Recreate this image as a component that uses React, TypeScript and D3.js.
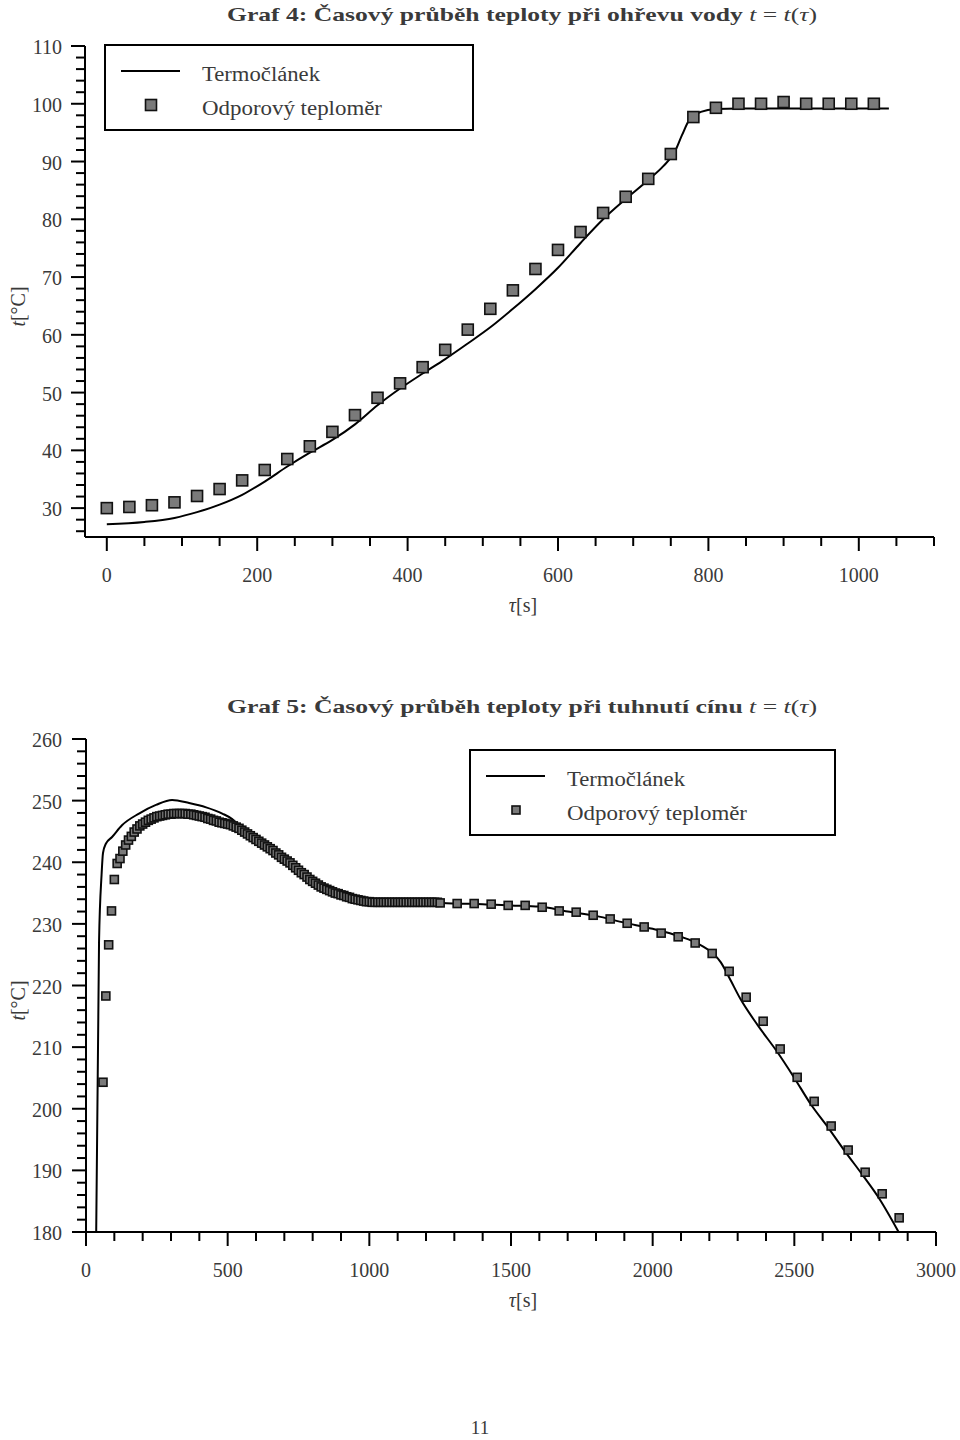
import * as d3 from 'd3'

const FONT = '"Liberation Serif", "Times New Roman", serif'
const TEXT = '#3a3a3a'

// Graf 4 – ohřev vody
const heatMarkTimes = [0, 30, 60, 90, 120, 150, 180, 210, 240, 270, 300, 330, 360, 390, 420, 450, 480, 510, 540, 570, 600, 630, 660, 690, 720, 750, 780, 810, 840, 870, 900, 930, 960, 990, 1020]
const heatMarkTemps = [30.0, 30.2, 30.5, 31.0, 32.1, 33.3, 34.8, 36.6, 38.5, 40.7, 43.2, 46.1, 49.1, 51.6, 54.4, 57.4, 60.9, 64.5, 67.7, 71.4, 74.7, 77.8, 81.1, 83.9, 87.0, 91.3, 97.7, 99.3, 100.0, 100.0, 100.3, 100.0, 100.0, 100.0, 100.0]
const heatLineTimes = [0, 50, 90, 120, 150, 180, 210, 240, 270, 300, 330, 360, 390, 420, 450, 480, 510, 540, 570, 600, 630, 660, 690, 720, 740, 755, 765, 775, 790, 810, 840, 1040]
const heatLineTemps = [27.2, 27.6, 28.3, 29.3, 30.6, 32.3, 34.6, 37.2, 39.6, 41.8, 44.5, 47.8, 50.7, 53.3, 55.8, 58.5, 61.3, 64.5, 67.9, 71.6, 75.9, 80.0, 83.5, 86.8, 89.2, 91.6, 94.6, 97.3, 98.6, 99.1, 99.2, 99.2]
const heatXTicks = [0, 200, 400, 600, 800, 1000]
const heatYTicks = [30, 40, 50, 60, 70, 80, 90, 100, 110]

// Graf 5 – tuhnutí cínu
const coolMarkTimes = [
  60, 70, 80, 90, 100, 110, 120, 130, 140, 150, 160, 170, 180, 190, 200, 210, 220, 230, 240, 250,
  260, 270, 280, 290, 300, 310, 320, 330, 340, 350, 360, 370, 380, 390, 400, 410, 420, 430, 440, 450,
  460, 470, 480, 490, 500, 510, 520, 530, 540, 550, 560, 570, 580, 590, 600, 610, 620, 630, 640, 650,
  660, 670, 680, 690, 700, 710, 720, 730, 740, 750, 760, 770, 780, 790, 800, 810, 820, 830, 840, 850,
  860, 870, 880, 890, 900, 910, 920, 930, 940, 950, 960, 970, 980, 990, 1000, 1010, 1020, 1030, 1040, 1050,
  1060, 1070, 1080, 1090, 1100, 1110, 1120, 1130, 1140, 1150, 1160, 1170, 1180, 1190, 1200, 1210, 1220, 1230, 1240,
  1250, 1310, 1370, 1430, 1490, 1550, 1610, 1670, 1730, 1790, 1850, 1910, 1970, 2030, 2090, 2150, 2210, 2270,
  2330, 2390, 2450, 2510, 2570, 2630, 2690, 2750, 2810, 2870,
]
const coolMarkTemps = [
  204.3, 218.3, 226.6, 232.1, 237.2, 239.8, 240.6, 241.8, 242.8, 243.6, 244.2, 244.9, 245.4, 245.9, 246.2, 246.5, 246.8, 247.0, 247.2, 247.4,
  247.5, 247.6, 247.7, 247.8, 247.8, 247.9, 247.9, 247.9, 247.9, 247.9, 247.8, 247.8, 247.7, 247.6, 247.5, 247.4, 247.3, 247.1, 247.0, 246.8,
  246.7, 246.5, 246.4, 246.3, 246.2, 246.1, 245.9, 245.7, 245.5, 245.2, 244.9, 244.6, 244.3, 244.0, 243.7, 243.4, 243.1, 242.8, 242.5, 242.2,
  241.9, 241.5, 241.2, 240.8, 240.5, 240.2, 239.9, 239.5, 239.1, 238.7, 238.3, 238.0, 237.6, 237.2, 236.9, 236.6, 236.3, 236.0, 235.8, 235.6,
  235.4, 235.2, 235.0, 234.9, 234.7, 234.6, 234.4, 234.3, 234.1, 234.0, 233.9, 233.8, 233.7, 233.6, 233.6, 233.5, 233.5, 233.5, 233.5, 233.5,
  233.5, 233.5, 233.5, 233.5, 233.5, 233.5, 233.5, 233.5, 233.5, 233.5, 233.5, 233.5, 233.5, 233.5, 233.5, 233.5, 233.5, 233.5, 233.5,
  233.4, 233.3, 233.3, 233.2, 233.0, 233.0, 232.7, 232.1, 231.9, 231.4, 230.8, 230.1, 229.5, 228.5, 227.9, 226.9, 225.2, 222.3,
  218.1, 214.2, 209.7, 205.1, 201.2, 197.2, 193.3, 189.7, 186.2, 182.3,
]
const coolLineTimes = [36, 46, 55, 60, 70, 92, 127, 187, 247, 304, 364, 424, 481, 516, 550, 600, 650, 700, 750, 800, 850, 900, 950, 1000, 1100, 1200, 1300, 1400, 1500, 1600, 1700, 1800, 1900, 2000, 2100, 2160, 2210, 2240, 2270, 2310, 2370, 2440, 2500, 2560, 2620, 2680, 2740, 2800, 2868]
const coolLineTemps = [180, 227, 238, 241.5, 243, 244.1, 246.0, 247.9, 249.3, 250.1, 249.6, 248.9, 247.9, 247.0, 245.4, 243.8, 242.1, 240.5, 238.7, 236.9, 235.6, 234.7, 234.0, 233.6, 233.5, 233.5, 233.3, 233.2, 233.0, 232.8, 232.0, 231.3, 230.2, 229.2, 227.9, 226.8, 225.3, 223.8, 221.3, 217.8, 213.6, 209.2, 205.0, 200.6, 196.9, 193.0, 189.3, 185.4, 180]
const coolXTicks = [0, 500, 1000, 1500, 2000, 2500, 3000]
const coolYTicks = [180, 190, 200, 210, 220, 230, 240, 250, 260]

const legendLabels = ['Termočlánek', 'Odporový teploměr']

type ChartProps = {
  title: string
  xDomain: [number, number]
  xRange: [number, number]
  yDomain: [number, number]
  yRange: [number, number]
  xTicks: number[]
  xMinorStep: number
  yTicks: number[]
  yMinorStep: number
  lineT: number[]
  lineV: number[]
  markT: number[]
  markV: number[]
  markSize: number
  legend: { x: number; y: number; w: number; h: number }
  titleY: number
  id: string
}

function Chart(p: ChartProps) {
  const x = d3.scaleLinear().domain(p.xDomain).range(p.xRange)
  const y = d3.scaleLinear().domain(p.yDomain).range(p.yRange)
  const [x0, x1] = p.xRange
  const [yb, yt] = p.yRange

  // minor ticks between the labelled ones
  const xMinor = d3.range(Math.ceil(p.xDomain[0] / p.xMinorStep) * p.xMinorStep, p.xDomain[1] + 0.001, p.xMinorStep)
    .filter(v => !p.xTicks.includes(v) && v >= 0)
  const yMinor = d3.range(Math.ceil(p.yDomain[0] / p.yMinorStep) * p.yMinorStep, p.yDomain[1] + 0.001, p.yMinorStep)
    .filter(v => !p.yTicks.includes(v))

  const linePts = p.lineT.map((t, i) => [t, p.lineV[i]] as [number, number])
  const path = d3.line<[number, number]>()
    .x(d => x(d[0]))
    .y(d => y(d[1]))
    .curve(d3.curveMonotoneX)(linePts) || ''

  const s = p.markSize
  const L = p.legend
  const clipId = `clip-${p.id}`

  return (
    <g>
      <defs>
        <clipPath id={clipId}>
          <rect x={x0} y={yt} width={x1 - x0} height={yb - yt} />
        </clipPath>
      </defs>

      {/* title */}
      <text x={522} y={p.titleY} textAnchor="middle" fontFamily={FONT} fontSize={19}
        fill={TEXT} textLength={590} lengthAdjust="spacingAndGlyphs">
        <tspan fontWeight="bold">{p.title} </tspan>
        <tspan fontStyle="italic">t</tspan>
        <tspan> = </tspan>
        <tspan fontStyle="italic">t</tspan>
        <tspan>(</tspan>
        <tspan fontStyle="italic">τ</tspan>
        <tspan>)</tspan>
      </text>

      {/* axes */}
      <line x1={x0} x2={x1} y1={yb} y2={yb} stroke="#000" strokeWidth={2} />
      <line x1={x0} x2={x0} y1={yb} y2={yt} stroke="#000" strokeWidth={2} />

      {p.xTicks.map(v => (
        <g key={'xt' + v}>
          <line x1={x(v)} x2={x(v)} y1={yb} y2={yb + 14} stroke="#000" strokeWidth={2} />
          <text x={x(v)} y={yb + 45} textAnchor="middle" fontFamily={FONT} fontSize={20} fill={TEXT}>{v}</text>
        </g>
      ))}
      {xMinor.map(v => (
        <line key={'xm' + v} x1={x(v)} x2={x(v)} y1={yb} y2={yb + 9} stroke="#000" strokeWidth={2} />
      ))}

      {p.yTicks.map(v => (
        <g key={'yt' + v}>
          <line x1={x0 - 14} x2={x0} y1={y(v)} y2={y(v)} stroke="#000" strokeWidth={2} />
          <text x={62} y={y(v) + 8} textAnchor="end" fontFamily={FONT} fontSize={20} fill={TEXT}>{v}</text>
        </g>
      ))}
      {yMinor.map(v => (
        <line key={'ym' + v} x1={x0 - 9} x2={x0} y1={y(v)} y2={y(v)} stroke="#000" strokeWidth={2} />
      ))}

      {/* axis labels */}
      <text x={523} y={yb + 75} textAnchor="middle" fontFamily={FONT} fontSize={20} fill={TEXT}>
        <tspan fontStyle="italic">τ</tspan>[s]
      </text>
      <text transform={`translate(25,${(yb + yt) / 2 + 15}) rotate(-90)`} textAnchor="middle"
        fontFamily={FONT} fontSize={20} fill={TEXT}>
        <tspan fontStyle="italic">t</tspan>[°C]
      </text>

      {/* series */}
      <path d={path} fill="none" stroke="#000" strokeWidth={2} clipPath={`url(#${clipId})`} />
      {p.markT.map((t, i) => (
        <rect key={'m' + i} x={x(t) - s / 2} y={y(p.markV[i]) - s / 2} width={s} height={s}
          fill="#7a7a7a" stroke="#111" strokeWidth={1.6} />
      ))}

      {/* legend */}
      <rect x={L.x} y={L.y} width={L.w} height={L.h} fill="#fff" stroke="#000" strokeWidth={2} />
      <line x1={L.x + 16} x2={L.x + 75} y1={L.y + 26} y2={L.y + 26} stroke="#000" strokeWidth={2} />
      <rect x={L.x + 46 - s / 2} y={L.y + 60 - s / 2} width={s} height={s} fill="#7a7a7a" stroke="#111" strokeWidth={1.6} />
      <text x={L.x + 97} y={L.y + 36} fontFamily={FONT} fontSize={20} fill={TEXT}
        textLength={118} lengthAdjust="spacingAndGlyphs">{legendLabels[0]}</text>
      <text x={L.x + 97} y={L.y + 70} fontFamily={FONT} fontSize={20} fill={TEXT}
        textLength={180} lengthAdjust="spacingAndGlyphs">{legendLabels[1]}</text>
    </g>
  )
}

export default function App() {
  return (
    <div style={{ position: 'absolute', left: 0, top: 0, width: 960, height: 1440, background: '#fff' }}>
      <svg width={960} height={1440} viewBox="0 0 960 1440">
        <Chart
          id="g4"
          title="Graf 4: Časový průběh teploty při ohřevu vody"
          titleY={21}
          xDomain={[-29, 1100]}
          xRange={[85, 934]}
          yDomain={[25, 110]}
          yRange={[537, 46]}
          xTicks={heatXTicks}
          xMinorStep={50}
          yTicks={heatYTicks}
          yMinorStep={2}
          lineT={heatLineTimes}
          lineV={heatLineTemps}
          markT={heatMarkTimes}
          markV={heatMarkTemps}
          markSize={11}
          legend={{ x: 105, y: 45, w: 368, h: 85 }}
        />
        <Chart
          id="g5"
          title="Graf 5: Časový průběh teploty při tuhnutí cínu"
          titleY={713}
          xDomain={[0, 3000]}
          xRange={[86, 936]}
          yDomain={[180, 260]}
          yRange={[1232, 739]}
          xTicks={coolXTicks}
          xMinorStep={100}
          yTicks={coolYTicks}
          yMinorStep={2}
          lineT={coolLineTimes}
          lineV={coolLineTemps}
          markT={coolMarkTimes}
          markV={coolMarkTemps}
          markSize={8}
          legend={{ x: 470, y: 750, w: 365, h: 85 }}
        />
        <text x={480} y={1434} textAnchor="middle" fontFamily={FONT} fontSize={19} fill={TEXT}>11</text>
      </svg>
    </div>
  )
}
